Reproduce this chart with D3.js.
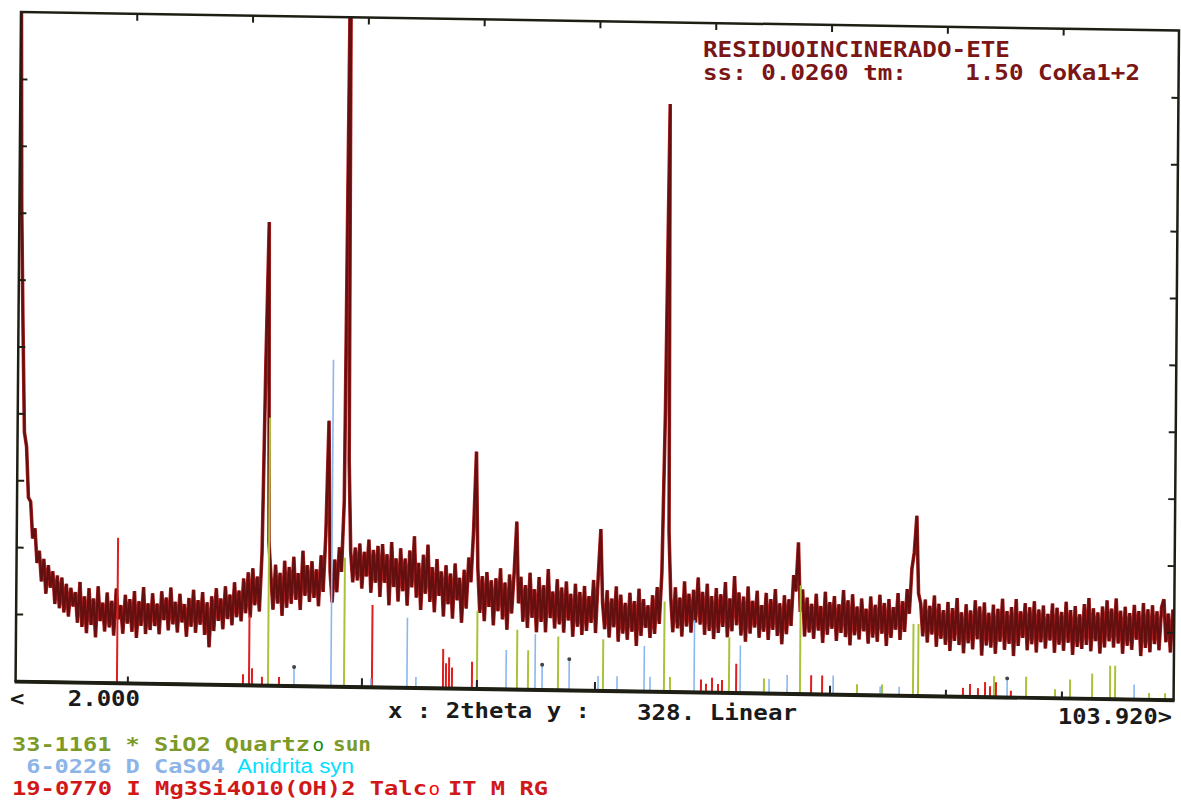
<!DOCTYPE html>
<html><head><meta charset="utf-8">
<script src="https://cdn.jsdelivr.net/npm/d3@7"></script>
<style>html,body{margin:0;padding:0;background:#fff;} svg{display:block;} text{white-space:pre;}</style>
</head><body>
<svg id="chart" width="1181" height="805"></svg>
<script>
// ---------------- DATA ----------------
const scanStart = 2.0;      // degrees 2theta
const scanStep = 0.2;       // degrees per point
const intensity = [
354,234,174,122,115,90,88,70,75,58,
64,49,60,43,57,46,54,38,52,36,
51,34,48,32,46,37,44,29,49,27,
42,24,46,28,41,22,47,30,39,25,
44,27,40,23,46,31,38,24,43,29,
41,25,45,22,40,28,47,24,39,26,
44,28,39,24,45,31,42,26,47,29,
40,25,44,30,39,23,42,28,46,25,
41,29,45,24,40,18,43,26,47,31,
42,27,48,32,44,29,50,33,46,31,
52,35,55,33,57,39,53,36,65,157,
227,70,53,37,59,40,55,34,61,38,
58,40,63,42,55,37,66,44,59,41,
61,43,57,39,64,46,74,130,56,41,
62,46,68,56,91,400,111,66,51,68,
52,70,48,66,54,72,46,67,51,69,
44,70,51,65,40,71,49,63,42,68,
47,63,40,67,49,74,44,61,38,65,
46,70,42,59,37,63,45,57,35,60,
41,56,34,61,43,54,32,58,39,64,
52,77,116,59,37,55,33,57,40,53,
31,54,38,59,34,52,29,56,37,57,
82,42,55,33,51,30,57,35,49,28,
55,33,51,28,59,35,48,30,54,32,
50,28,53,34,47,26,52,31,48,27,
51,29,46,33,54,28,56,79,43,30,
49,26,45,31,51,24,47,28,43,25,
48,29,44,22,50,27,45,31,42,26,
47,28,51,33,58,138,288,78,46,29,
51,31,46,27,54,32,48,29,50,34,
56,33,49,28,53,30,47,26,51,29,
48,32,54,27,46,30,57,33,49,28,
47,25,52,29,45,32,50,27,43,30,
49,26,46,31,51,28,44,24,48,29,
46,33,58,50,74,40,51,28,47,30,
44,27,49,31,43,25,50,29,45,32,
48,26,44,30,51,28,46,24,49,29,
43,27,47,31,42,25,48,28,44,26,
49,30,45,24,47,28,43,32,50,27,
46,31,52,40,62,70,88,50,45,29,
47,26,44,30,49,24,45,28,42,25,
46,22,43,27,48,25,41,21,45,26,
42,23,47,28,44,20,46,25,41,24,
45,21,43,27,48,23,42,26,44,20,
48,25,42,29,46,23,44,26,47,22,
43,27,45,24,41,28,46,22,44,26,
42,23,47,27,43,21,45,25,41,24,
46,26,49,23,44,28,42,22,45,25,
48,28,44,25,49,27,43,22,45,26,
42,24,46,29,43,21,47,25,44,23,
46,27,43,24,45,49,28,42,23,44
];

// Reference patterns (stick lines): 2theta and height in counts
const quartzTheta = [24.21,30.90,42.60,46.12,47.09,49.73,53.69,59.06,59.59,64.78,67.86,71.03,76.05,78.25,80.98,81.42,88.11,90.93,93.48,94.80,96.74,98.32,98.76,101.76,103.17];
const quartzI     = [131,63,38,29,19,26,25,44,7,27,7,53,5,5,35,35,10,10,4,9,12,16,16,3,3];

const anhydriteTheta = [26.50,29.75,33.27,36.44,37.23,45.16,47.71,48.33,50.71,53.26,54.93,57.31,57.83,61.71,65.76,68.31,69.90,73.95,78.09,79.76,89.26,100.44];
const anhydriteI     = [9,160,4,34,5,19,27,12,15,7,7,22,7,35,23,7,9,9,4,4,9,7];
const anhydriteMarked = [26.50,48.33,50.71,89.26];

const talcTheta = [10.92,22.01,22.54,22.80,23.68,25.18,33.36,39.61,39.87,40.14,40.40,42.16,62.32,62.76,63.29,63.82,64.17,65.41,72.01,72.98,85.38,86.00,86.70,87.32,87.76,88.28,89.60];
const talcI     = [71,5,34,8,4,4,40,19,12,15,10,13,6,4,7,4,6,14,9,9,4,6,4,7,5,7,3];

const otherTheta = [11.88,32.48,42.60,52.99,73.68,83.88,94.09];
const otherI     = [3,4,4,4,4,3,3];

const xDomain = [2.0, 103.92];
const yMax = 328;

const titleLines = ["RESIDUOINCINERADO-ETE", "ss: 0.0260 tm:    1.50 CoKa1+2"];
const axisTexts = ["<   2.000", "x : 2theta y :", "328. Linear", "103.920>"];
const legendCodes = ["33-1161 * SiO2 Quartz", " 6-0226 D CaSO4", "19-0770 I Mg3Si4O10(OH)2 Talc"];

// ---------------- DRAW ----------------
const svg = d3.select("#chart");
const L = 18, R = 1176, T = 18, B = 695;
const x = d3.scaleLinear().domain(xDomain).range([L, R]);
const y = d3.scaleLinear().domain([0, yMax]).range([B, T]);

const mono = "'DejaVu Sans Mono', 'Liberation Mono', monospace";
const sans = "'Liberation Sans', Arial, sans-serif";

// the scanned plot is slightly skewed; mimic it with one transform on the plot group
const plot = svg.append("g").attr("transform","matrix(1,0.016,-0.008,0.988,3.14,-6.07)");

plot.append("defs").append("clipPath").attr("id","plotclip")
  .append("rect").attr("x",L).attr("y",T).attr("width",R-L).attr("height",B-T);

const scan = intensity.map((v,i)=>({t: scanStart + i*scanStep, v}));
const line = d3.line().x(d=>x(d.t)).y(d=>y(d.v));
const g = plot.append("g").attr("clip-path","url(#plotclip)");
g.append("path").datum(scan).attr("d",line).attr("fill","none")
  .attr("stroke","#b52222").attr("stroke-width",3.6).attr("stroke-linejoin","miter");
g.append("path").datum(scan).attr("d",line).attr("fill","none")
  .attr("stroke","#641010").attr("stroke-width",2.3);

function sticks(thetas, vals, color, w){
  g.append("g").selectAll("line").data(thetas.map((t,i)=>({t, v: vals[i]}))).join("line")
    .attr("x1",d=>x(d.t)).attr("x2",d=>x(d.t))
    .attr("y1",y(0)).attr("y2",d=>y(d.v))
    .attr("stroke",color).attr("stroke-width",w);
}
sticks(talcTheta, talcI, "#e01e1e", 2);
sticks(anhydriteTheta, anhydriteI, "#8ab8f0", 1.6);
sticks(quartzTheta, quartzI, "#a9c23a", 2);
sticks(otherTheta, otherI, "#222", 2);
g.append("g").selectAll("circle").data(anhydriteMarked).join("circle")
  .attr("cx",d=>x(d)).attr("cy",d=>y(anhydriteI[anhydriteTheta.indexOf(d)])).attr("r",2)
  .attr("fill","#444");

// frame
plot.append("rect").attr("x",L).attr("y",T).attr("width",R-L).attr("height",B-T)
  .attr("fill","none").attr("stroke","#1e1e14").attr("stroke-width",2.5);
plot.append("line").attr("x1",L-1).attr("x2",R+1).attr("y1",B+1).attr("y2",B+1)
  .attr("stroke","#1e1e14").attr("stroke-width",3.5);

// axes (ticks only, inside)
const xt = d3.range(1,10).map(i => xDomain[0] + i*(xDomain[1]-xDomain[0])/10);
const yt = d3.range(1,10).map(i => i*yMax/10);
function styleAxis(sel){ sel.select(".domain").remove(); sel.selectAll("line").attr("stroke","#1e1e14").attr("stroke-width",2); }
plot.append("g").attr("transform",`translate(0,${T})`)
  .call(d3.axisTop(x).tickValues(xt).tickSizeInner(-7).tickSizeOuter(0).tickFormat("")).call(styleAxis);
plot.append("g").attr("transform",`translate(${L},0)`)
  .call(d3.axisLeft(y).tickValues(yt).tickSizeInner(-7).tickSizeOuter(0).tickFormat("")).call(styleAxis);
plot.append("g").attr("transform",`translate(${R},0)`)
  .call(d3.axisRight(y).tickValues(yt).tickSizeInner(-7).tickSizeOuter(0).tickFormat("")).call(styleAxis);

// texts
function mtext(str, px, py, width, color, size, fam, weight){
  const t = svg.append("text").attr("x",px).attr("y",py).text(str)
    .attr("font-family", fam || mono).attr("font-weight", weight || "bold")
    .attr("font-size", size).attr("fill", color);
  if (width) t.attr("textLength", width).attr("lengthAdjust","spacingAndGlyphs");
  return t;
}
mtext(titleLines[0], 703, 57, 307, "#7a1616", 22);
mtext(titleLines[1], 703, 80, 437, "#7a1616", 22);

mtext(axisTexts[0], 10, 706, 130, "#1a1a1a", 21);
mtext(axisTexts[1], 388, 718, 202, "#1a1a1a", 21);
mtext(axisTexts[2], 637, 720, 160, "#1a1a1a", 21);
mtext(axisTexts[3], 1058, 724, 114, "#1a1a1a", 21);

mtext(legendCodes[0], 12, 751, 298, "#7c9a28", 20);
mtext("o", 313, 751, null, "#0a8a0a", 19, sans, "normal");
mtext("sun", 333, 751, 38, "#7c9a28", 20);
mtext(legendCodes[1], 12, 773, 213, "#8db4e8", 20);
mtext("Anidrita syn", 237, 773, 117, "#00e0ff", 20, sans, "normal");
mtext(legendCodes[2], 12, 795, 415, "#d01818", 20);
mtext("o", 429, 795, null, "#ff0000", 19, sans, "normal");
mtext("IT M RG", 448, 795, 100, "#d01818", 20);
</script>
</body></html>
